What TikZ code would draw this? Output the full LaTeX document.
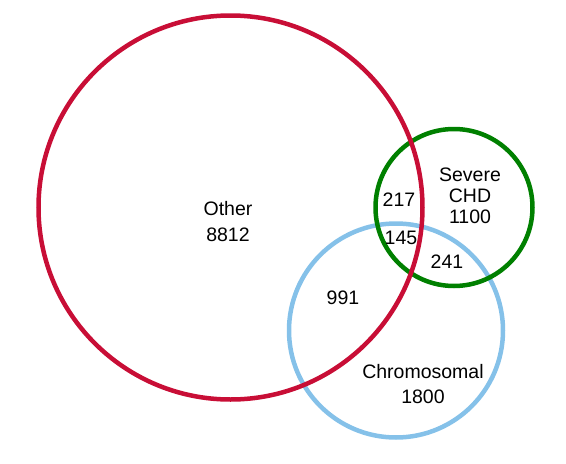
\documentclass[tikz,border=0pt]{standalone}
\usepackage{fontspec}
\setmainfont{Liberation Sans}
\usepackage{tikz}
\usetikzlibrary{positioning}
\usepackage{xcolor}
\definecolor{otherRed}{RGB}{200,14,54}
\definecolor{chdGreen}{RGB}{0,128,0}
\definecolor{chromBlue}{RGB}{133,193,233}

\begin{document}
\begin{tikzpicture}[
                x=1pt, y=-1pt,
                ring/.style={draw, circle, line width=4.5pt, inner sep=0pt},
                count/.style={inner sep=0pt, align=center, font=\fontsize{19.5}{21}\selectfont}
            ]

                \useasboundingbox (0,0) rectangle (566,464);

                \node[ring, draw=chromBlue, minimum size=214pt] (chromo) at (396,330.5) {};
                \node[ring, draw=chdGreen,  minimum size=157pt] (severe) at (454,207.5) {};
                \node[ring, draw=otherRed,  minimum size=384pt] (other)  at (230.5,207.5) {};

                \node[count] (other_lbl)  at (228,222)   {Other\\[5pt]8812};
                \node[count] (severe_lbl) at (470,195.5) {Severe\\CHD\\1100};
                \node[count] (chromo_lbl) at (423,384.5) {Chromosomal\\[4pt]1800};

                \node[count] (os_lbl)  at (399,199.5) {217};
                \node[count] (osc_lbl) at (401,238.3) {145};
                \node[count] (sc_lbl)  at (447,262)   {241};
                \node[count] (oc_lbl)  at (343,297.5) {991};

            \end{tikzpicture}
\end{document}
